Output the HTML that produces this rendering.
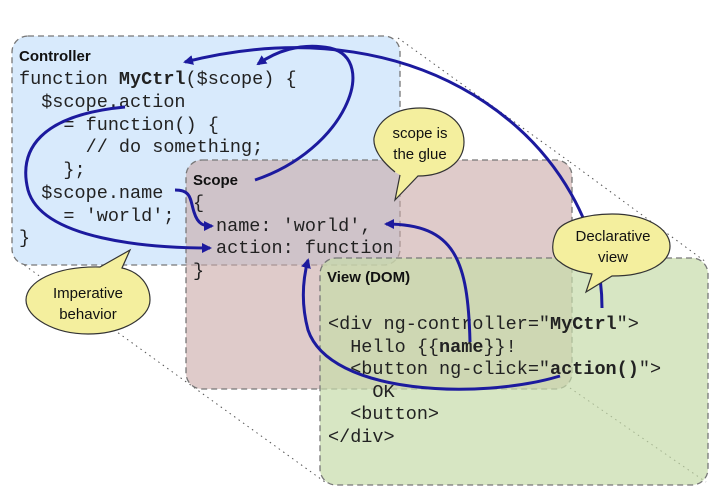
<!DOCTYPE html>
<html><head><meta charset="utf-8"><style>
html,body{margin:0;padding:0;background:#fff;}
svg{display:block;}
text{white-space:pre;}
.m{font-family:"Liberation Mono",monospace;font-size:18.5px;fill:#222;}
.b{font-weight:bold;}
.s{font-family:"Liberation Sans",sans-serif;font-size:15px;fill:#111;}
.h{font-family:"Liberation Sans",sans-serif;font-size:15px;font-weight:bold;fill:#111;}
</style></head><body>
<svg width="719" height="492" viewBox="0 0 719 492" xmlns="http://www.w3.org/2000/svg" xml:space="preserve">
<defs>
<marker id="a" markerWidth="10" markerHeight="10" refX="8" refY="5" orient="auto" markerUnits="userSpaceOnUse">
<path d="M0,0 L10,5 L0,10 z" fill="#1c1a9e"/></marker>
</defs>
<rect width="719" height="492" fill="#fff"/>
<g stroke="#555" stroke-width="1" stroke-dasharray="1.5,4" fill="none">
<line x1="20" y1="40" x2="190" y2="165"/>
<line x1="190" y1="165" x2="325" y2="262"/>
<line x1="20" y1="262" x2="325" y2="482"/>
<line x1="398" y1="38" x2="570" y2="162"/>
<line x1="570" y1="162" x2="706" y2="262"/>
<line x1="570" y1="388" x2="706" y2="482"/>
</g>
<rect x="12" y="36" width="388" height="229" rx="16" fill="#d8eafc" stroke="#777" stroke-width="1.3" stroke-dasharray="6,4"/>
<rect x="186" y="160" width="386" height="229" rx="16" fill="#c9a9a6" fill-opacity="0.6" stroke="#777" stroke-width="1.3" stroke-dasharray="6,4"/>
<rect x="320" y="258" width="388" height="227" rx="16" fill="#c6dba9" fill-opacity="0.7" stroke="#777" stroke-width="1.3" stroke-dasharray="6,4"/>
<text x="19" y="61" class="h">Controller</text>
<text x="19" y="84" class="m">function <tspan class="b">MyCtrl</tspan>($scope) {</text>
<text x="19" y="107" class="m">  $scope.action</text>
<text x="19" y="130" class="m">    = function() {</text>
<text x="19" y="152" class="m">      // do something;</text>
<text x="19" y="175" class="m">    };</text>
<text x="19" y="198" class="m">  $scope.name</text>
<text x="19" y="221" class="m">    = 'world';</text>
<text x="19" y="243" class="m">}</text>
<text x="193" y="185" class="h">Scope</text>
<text x="193" y="208" class="m">{</text>
<text x="216" y="231" class="m">name: 'world',</text>
<text x="216" y="253" class="m">action: function</text>
<text x="193" y="276" class="m">}</text>
<text x="327" y="282" class="h">View (DOM)</text>
<text x="328" y="329" class="m">&lt;div ng-controller="<tspan class="b">MyCtrl</tspan>"&gt;</text>
<text x="328" y="352" class="m">  Hello {{<tspan class="b">name</tspan>}}!</text>
<text x="328" y="374" class="m">  &lt;button ng-click="<tspan class="b">action()</tspan>"&gt;</text>
<text x="328" y="397" class="m">    OK</text>
<text x="328" y="419" class="m">  &lt;button&gt;</text>
<text x="328" y="442" class="m">&lt;/div&gt;</text>
<g stroke="#1c1a9e" stroke-width="3" fill="none" marker-end="url(#a)">
<path d="M602,308 C602,150 430,0 185,62"/>
<path d="M255,180 C345,150 380,60 330,48 C300,42 275,52 258,64"/>
<path d="M125,107 C40,115 18,150 28,190 C42,240 150,248 210,248"/>
<path d="M175,190 C192,190 190,200 194,212 C198,225 204,226 212,226"/>
<path d="M470,342 C468,260 455,224 386,224"/>
<path d="M560,376 C480,400 330,395 308,330 C300,300 304,275 308,260"/>
</g>
<g fill="#f4ef9e" stroke="#333" stroke-width="1.2">
<path d="M395,172 C380,160 373,148 374,138 C378,118 398,108 420,108 C446,108 464,122 464,142 C464,162 445,176 418,176 L395,200 L400,175"/>
<path d="M560,262 C548,255 554,237 556,233 C560,222 585,214 612,214 C645,214 670,228 670,246 C670,262 650,276 612,276 L586,292 L592,274 C578,272 567,268 560,262 Z"/>
<path d="M100,267 L130,250 L122,268 C140,272 150,285 150,300 C150,318 122,334 88,334 C55,334 26,318 26,300 C26,282 55,266 100,267 Z"/>
</g>
<text x="420" y="138" class="s" text-anchor="middle">scope is</text>
<text x="420" y="159" class="s" text-anchor="middle">the glue</text>
<text x="613" y="241" class="s" text-anchor="middle">Declarative</text>
<text x="613" y="262" class="s" text-anchor="middle">view</text>
<text x="88" y="298" class="s" text-anchor="middle">Imperative</text>
<text x="88" y="319" class="s" text-anchor="middle">behavior</text>
</svg>
</body></html>
